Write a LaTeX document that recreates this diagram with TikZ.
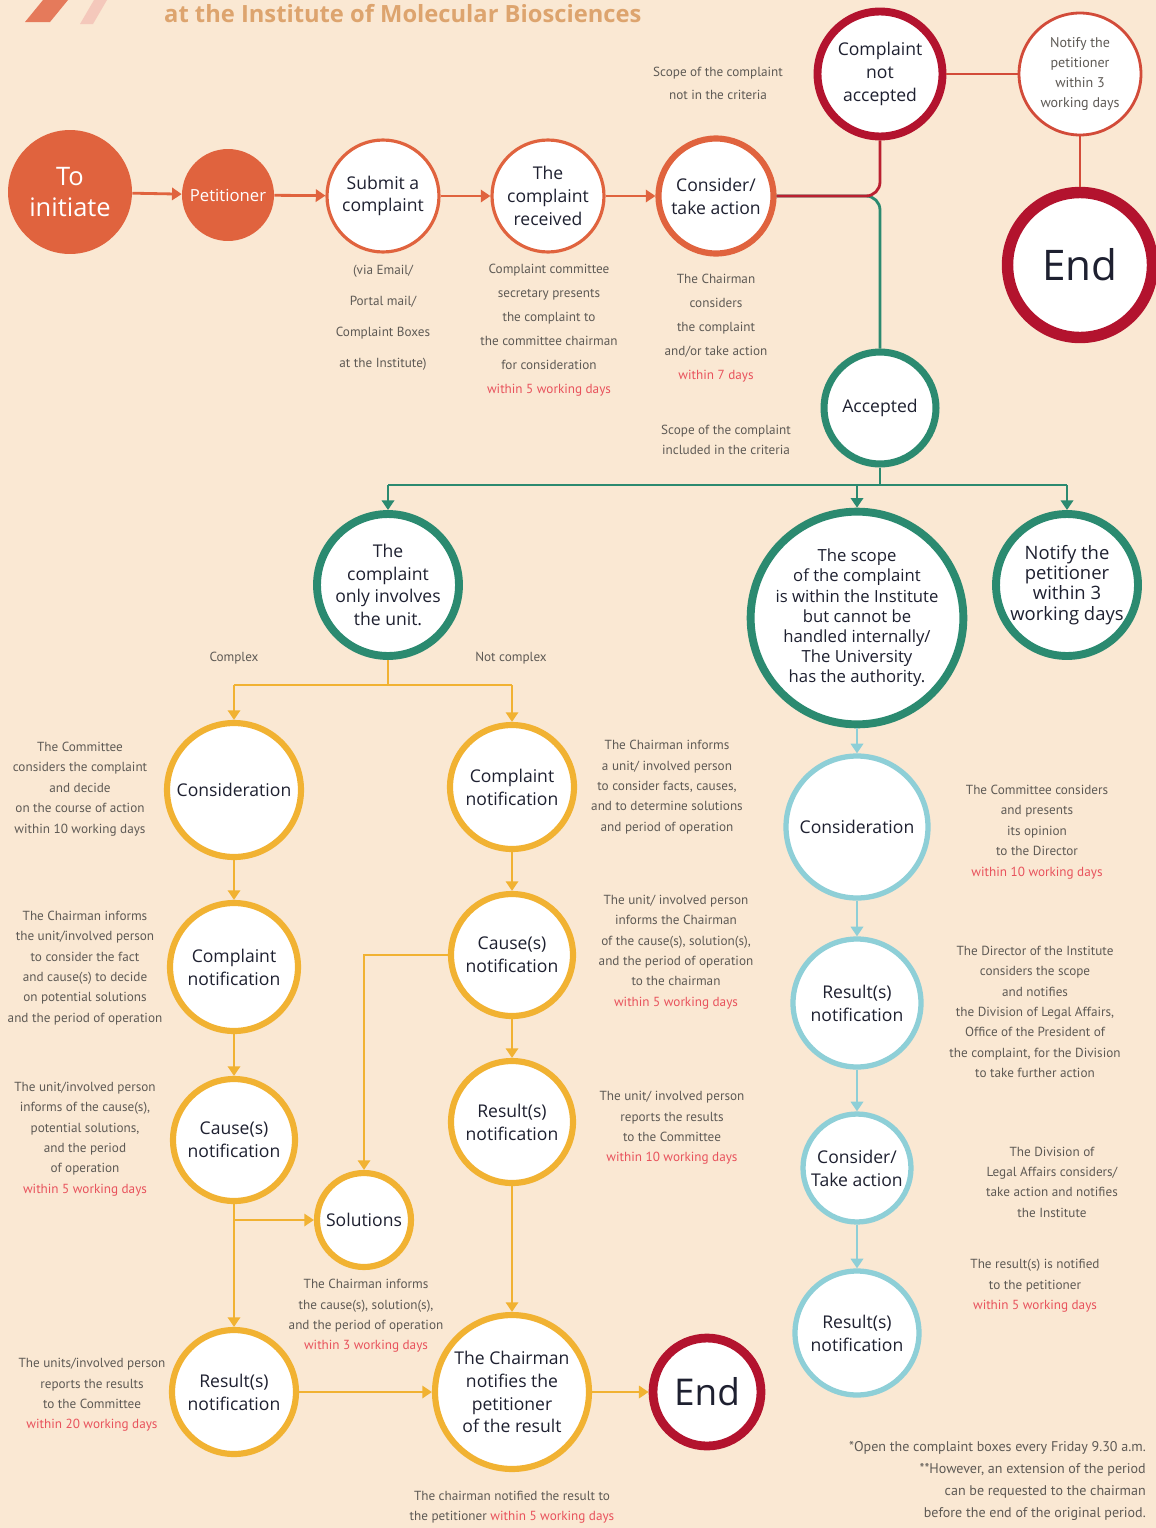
\documentclass[tikz,border=0pt]{standalone}
\usepackage{fontspec}
\setmainfont{Open Sans}
\newfontfamily\notafont{PT Sans}
\usepackage{xcolor}
\usepackage{tikz}
\usetikzlibrary{arrows.meta, calc}
\definecolor{fondo}{HTML}{FAE8D3}
\definecolor{naranja}{HTML}{E0633E}
\definecolor{granate}{HTML}{B3132E}
\definecolor{verde}{HTML}{2B8A70}
\definecolor{ambar}{HTML}{F1B232}
\definecolor{celeste}{HTML}{8ECFD7}
\definecolor{rojizo}{HTML}{E8525C}
\definecolor{gris}{HTML}{5E5A55}
\definecolor{tinta}{HTML}{1E2030}
\definecolor{titulo}{HTML}{DDA46E}
\newcommand{\plazo}[1]{\textcolor{rojizo}{#1}}
\tikzset{
  every picture/.style={x=0.02cm, y=-0.02cm},
  circ/.style={circle, fill=white, text=tinta, align=center, inner sep=0pt, font=\fontsize{10}{13}\selectfont},
  ini/.style={circle, fill=naranja, text=white, align=center, inner sep=0pt},
  nar/.style={circ, draw=naranja, line width=1.8pt},
  gra/.style={circ, draw=granate, line width=4.5pt},
  ver/.style={circ, draw=verde, line width=4pt},
  amb/.style={circ, draw=ambar, line width=3.5pt},
  cel/.style={circ, draw=celeste, line width=3pt},
  nota/.style={text=gris, align=center, font=\notafont\fontsize{7.5}{11.6}\selectfont},
  punta/.style={-{Triangle[length=5.5pt,width=7pt]}},
}

\begin{document}
\begin{tikzpicture}[
  fnar/.style={punta, line width=1.6pt, naranja},
  lgra/.style={line width=1.6pt, granate!85!naranja},
  lver/.style={line width=1.6pt, verde},
  fver/.style={punta, line width=1.6pt, verde},
  lamb/.style={line width=1.6pt, ambar},
  famb/.style={punta, line width=1.6pt, ambar},
  fcel/.style={punta, line width=1.6pt, celeste}]
  \fill[fondo] (0,0) rectangle (1156,1528);
  \useasboundingbox (0,0) rectangle (1156,1528);
  % title strip
  \fill[naranja!85] (25,22) -- (50,22) -- (68,0) -- (43,0) -- cycle;
  \fill[naranja!35] (80,24) -- (93,24) -- (107,0) -- (94,0) -- cycle;
  \node[font=\bfseries\fontsize{13.5}{14}\selectfont, text=titulo, anchor=base west] (tit) at (158,22) {at the Institute of Molecular Biosciences};
  % top row
  \node[ini, minimum size=2.48cm, font=\fontsize{14.5}{18}\selectfont] (ini) at (70,192) {To\\initiate};
  \node[ini, minimum size=1.84cm, font=\fontsize{9.5}{12}\selectfont] (pet) at (228,195) {Petitioner};
  \node[nar, minimum size=2.24cm] (sub) at (383,196) {Submit a\\complaint};
  \node[nar, minimum size=2.24cm] (rec) at (548,196) {The\\complaint\\received};
  \node[nar, line width=3.5pt, minimum size=2.3cm] (con) at (716,196) {Consider/\\take action};
  \node[gra, minimum size=2.5cm] (noacc) at (880,74) {Complaint\\not\\accepted};
  \node[circ, draw=naranja!70!granate, line width=1.6pt, minimum size=2.44cm, text=gris, font=\notafont\fontsize{8}{11.4}\selectfont] (avi1) at (1080,74) {Notify the\\petitioner\\within 3\\working days};
  \node[gra, line width=6.5pt, minimum size=2.9cm, font=\fontsize{24}{28}\selectfont] (fin1) at (1080,265) {End};
  \node[ver, minimum size=2.24cm] (acc) at (880,408) {Accepted};
  \foreach \a/\b in {ini/pet,pet/sub,sub/rec,rec/con} \draw[fnar] (\a) -- (\b);
  \coordinate (sp) at (880,196);
  \draw[lver, rounded corners=8pt] (con) -- (sp) -- (acc);
  \draw[lgra, rounded corners=8pt] (con) -- (sp) -- (noacc);
  \draw[lgra, naranja!70!granate] (noacc) -- (avi1);
  \draw[lgra, naranja!70!granate] (avi1) -- (fin1);
  \node[nota, font=\notafont\fontsize{7.5}{13}\selectfont] (t1) at (718,83) {Scope of the complaint\\not in the criteria};
  \node[nota, font=\notafont\fontsize{7.5}{17.6}\selectfont] (t2) at (383,318) {(via Email/\\Portal mail/\\Complaint Boxes\\at the Institute)};
  \node[nota, font=\notafont\fontsize{7.5}{13.6}\selectfont] (t3) at (549,330) {Complaint committee\\secretary presents\\the complaint to\\the committee chairman\\for consideration\\\plazo{within 5 working days}};
  \node[nota, font=\notafont\fontsize{7.5}{13.6}\selectfont] (t4) at (716,328) {The Chairman\\considers\\the complaint\\and/or take action\\\plazo{within 7 days}};
  \node[nota] (t5) at (726,440) {Scope of the complaint\\included in the criteria};
  % accepted branch
  \node[ver, line width=4.5pt, minimum size=2.84cm] (uni) at (388,585) {The\\complaint\\only involves\\the unit.};
  \node[ver, line width=4.5pt, minimum size=3.96cm, font=\fontsize{9.5}{11.5}\selectfont] (alc) at (857,618) {The scope\\of the complaint\\is within the Institute\\but cannot be\\handled internally/\\The University\\has the authority.};
  \node[ver, line width=4.5pt, minimum size=2.84cm, font=\fontsize{10.5}{11.5}\selectfont] (avi2) at (1067,585) {Notify the\\petitioner\\within 3\\working days};
  \coordinate (bus) at (880,485);
  \draw[lver] (acc) -- (bus);
  \draw[lver] (uni |- bus) -- (avi2 |- bus);
  \foreach \n in {uni,alc,avi2} \draw[fver] (\n |- bus) -- (\n);
  % unit only
  \node[amb, minimum size=2.68cm] (c1) at (234,790) {Consideration};
  \node[amb, minimum size=2.56cm] (c2) at (234,967) {Complaint\\notification};
  \node[amb, minimum size=2.44cm] (c3) at (234,1140) {Cause(s)\\notification};
  \node[amb, minimum size=1.88cm] (sol) at (364,1220) {Solutions};
  \node[amb, minimum size=2.48cm] (c4) at (234,1392) {Result(s)\\notification};
  \node[amb, minimum size=2.48cm] (m1) at (512,787) {Complaint\\notification};
  \node[amb, minimum size=2.44cm] (m2) at (512,955) {Cause(s)\\notification};
  \node[amb, minimum size=2.44cm] (m3) at (512,1122) {Result(s)\\notification};
  \node[amb, minimum size=3.08cm] (pres) at (512,1392) {The Chairman\\notifies the\\petitioner\\of the result};
  \node[gra, line width=5pt, minimum size=2.16cm, font=\fontsize{21}{24}\selectfont] (fin2) at (707,1392) {End};
  \coordinate (ram) at (388,685);
  \draw[lamb] (uni) -- (ram);
  \draw[lamb] (c1 |- ram) -- (m1 |- ram);
  \foreach \n in {c1,m1} \draw[famb] (\n |- ram) -- (\n);
  \node[nota] (k1) at (234,658) {Complex};
  \node[nota] (k2) at (511,658) {Not complex};
  \foreach \a/\b in {c1/c2,c2/c3,c3/c4,m1/m2,m2/m3,m3/pres,c4/pres,pres/fin2} \draw[famb] (\a) -- (\b);
  \draw[famb] (c3 |- sol) -- (sol);
  \draw[famb] (m2) -| (sol);
  \node[nota] (u1) at (80,789) {The Committee\\considers the complaint\\and decide\\on the course of action\\within 10 working days};
  \node[nota] (u2) at (85,968) {The Chairman informs\\the unit/involved person\\to consider the fact\\and cause(s) to decide\\on potential solutions\\and the period of operation};
  \node[nota] (u3) at (85,1139) {The unit/involved person\\informs of the cause(s),\\potential solutions,\\and the period\\of operation\\\plazo{within 5 working days}};
  \node[nota] (u4) at (92,1395) {The units/involved person\\reports the results\\to the Committee\\\plazo{within 20 working days}};
  \node[nota] (u5) at (667,787) {The Chairman informs\\a unit/ involved person\\to consider facts, causes,\\and to determine solutions\\and period of operation};
  \node[nota] (u6) at (676,952) {The unit/ involved person\\informs the Chairman\\of the cause(s), solution(s),\\and the period of operation\\to the chairman\\\plazo{within 5 working days}};
  \node[nota] (u7) at (672,1128) {The unit/ involved person\\reports the results\\to the Committee\\\plazo{within 10 working days}};
  \node[nota] (u8) at (366,1316) {The Chairman informs\\the cause(s), solution(s),\\and the period of operation\\\plazo{within 3 working days}};
  \node[nota] (u9) at (512,1507) {The chairman notified the result to\\the petitioner \plazo{within 5 working days}};
  % university branch
  \node[cel, minimum size=2.84cm] (d1) at (857,827) {Consideration};
  \node[cel, minimum size=2.56cm] (d2) at (857,1003) {Result(s)\\notification};
  \node[cel, minimum size=2.16cm] (d3) at (857,1168) {Consider/\\Take action};
  \node[cel, minimum size=2.48cm] (d4) at (857,1333) {Result(s)\\notification};
  \foreach \a/\b in {alc/d1,d1/d2,d2/d3,d3/d4} \draw[fcel] (\a) -- (\b);
  \node[nota] (v1) at (1037,832) {The Committee considers\\and presents\\its opinion\\to the Director\\\plazo{within 10 working days}};
  \node[nota] (v2) at (1035,1012) {The Director of the Institute\\considers the scope\\and notifies\\the Division of Legal Affairs,\\Office of the President of\\the complaint, for the Division\\to take further action};
  \node[nota] (v3) at (1052,1182) {The Division of\\Legal Affairs considers/\\take action and notifies\\the Institute};
  \node[nota] (v4) at (1035,1286) {The result(s) is notified\\to the petitioner\\\plazo{within 5 working days}};
  \node[nota, align=right, anchor=east, font=\notafont\fontsize{8}{12.5}\selectfont] (pie) at (1152,1481) {*Open the complaint boxes every Friday 9.30 a.m.\\**However, an extension of the period\\can be requested to the chairman\\before the end of the original period.};
\end{tikzpicture}
\end{document}
